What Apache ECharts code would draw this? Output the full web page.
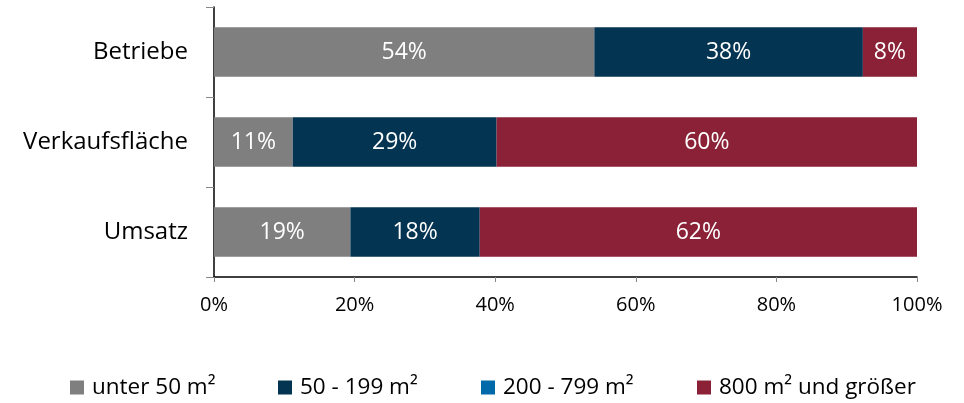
<!DOCTYPE html>
<html>
<head>
<meta charset="utf-8">
<script src="https://cdn.jsdelivr.net/npm/echarts@6/dist/echarts.min.js"></script>
<style>
  html, body { margin: 0; padding: 0; background: #ffffff; }
  #chart { width: 964px; height: 403px; }
</style>
</head>
<body>
<div id="chart"></div>
<script>
// Categories, top to bottom as drawn
const categories = ['Betriebe', 'Verkaufsfläche', 'Umsatz'];

// Shares per size class (%), same order as categories
const under50 = [54.1, 11.2, 19.4];
const from50to199 = [38.2, 29.0, 18.4];
const from200to799 = [0, 0, 0];
const from800 = [7.7, 59.8, 62.2];

const seriesNames = ['unter 50 m²', '50 - 199 m²', '200 - 799 m²', '800 m² und größer'];
const seriesColors = ['#7f7f7f', '#033451', '#0069aa', '#8a2136'];
const seriesData = [under50, from50to199, from200to799, from800];

const FONT = '"Open Sans"';

const chart = echarts.init(document.getElementById('chart'));

// Horizontal start of each legend entry
const legendLefts = [70, 278, 481, 697];

chart.setOption({
  animation: false,
  textStyle: { fontFamily: FONT },
  grid: { left: 214, right: 47, top: 7, bottom: 126, containLabel: false },
  legend: seriesNames.map((name, i) => ({
    data: [name],
    left: legendLefts[i],
    top: 376,
    icon: 'rect',
    itemWidth: 14,
    itemHeight: 14,
    itemGap: 0,
    padding: 0,
    textStyle: { fontFamily: FONT, fontSize: 22.5, color: '#000', padding: [0, 0, 0, 3] }
  })),
  xAxis: {
    type: 'value',
    min: 0,
    max: 100,
    interval: 20,
    axisLine: { show: true, lineStyle: { color: '#000', width: 1.5 } },
    axisTick: { show: true, length: 5, lineStyle: { color: '#888' } },
    splitLine: { show: false },
    axisLabel: {
      color: '#000', fontSize: 20, margin: 18, fontFamily: FONT,
      formatter: v => v + '%'
    }
  },
  yAxis: {
    type: 'category',
    data: categories,
    inverse: true,
    axisLine: { show: true, lineStyle: { color: '#000', width: 1.5 } },
    axisTick: { show: true, length: 8, lineStyle: { color: '#888' } },
    axisLabel: { color: '#000', fontSize: 24, margin: 26, fontFamily: FONT }
  },
  series: seriesNames.map((name, i) => ({
    name: name,
    type: 'bar',
    stack: 'total',
    barWidth: '55%',
    itemStyle: { color: seriesColors[i] },
    label: {
      show: true,
      position: 'inside',
      color: '#fff',
      fontSize: 23,
      fontFamily: FONT,
      formatter: p => (p.value > 0 ? Math.round(p.value) + '%' : '')
    },
    data: seriesData[i]
  }))
});
</script>
</body>
</html>
